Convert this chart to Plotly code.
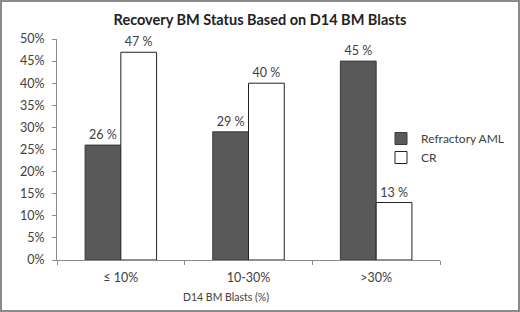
import plotly.graph_objects as go

categories = ["≤ 10%", "10-30%", ">30%"]
refractory = [26, 29, 45]
cr = [47, 40, 13]
y_ticks = [0, 5, 10, 15, 20, 25, 30, 35, 40, 45, 50]

font_family = "Lato, Open Sans, sans-serif"
text_col = "#404040"

fig = go.Figure()
fig.add_trace(go.Bar(
    x=categories, y=[v / 100 for v in refractory], name="Refractory AML",
    marker=dict(color="#595959", line=dict(color="#3a3a3a", width=1)),
    text=[f"{v} %" for v in refractory], textposition="outside",
    textfont=dict(size=12.5, color=text_col, family=font_family), cliponaxis=False,
))
fig.add_trace(go.Bar(
    x=categories, y=[v / 100 for v in cr], name="CR",
    marker=dict(color="white", line=dict(color="#222222", width=1)),
    text=[f"{v} %" for v in cr], textposition="outside",
    textfont=dict(size=12.5, color=text_col, family=font_family), cliponaxis=False,
))

L, T, PW, PH = 57, 39, 383, 221
fig.update_layout(
    width=520, height=312,
    margin=dict(l=L, r=520 - L - PW, t=T, b=312 - T - PH, autoexpand=False),
    paper_bgcolor="white", plot_bgcolor="white",
    barmode="group", bargap=0.44, bargroupgap=0,
    title=dict(text="<b>Recovery BM Status Based on D14 BM Blasts</b>",
               x=0.5, xanchor="center", y=1 - 20 / 312, yanchor="middle",
               font=dict(size=14.5, color="#222222", family=font_family)),
    font=dict(family=font_family, color=text_col, size=12),
    showlegend=True,
    legend=dict(x=(381 - L) / PW, y=(260 - 148) / PH, xanchor="left", yanchor="middle",
                font=dict(size=12, color=text_col), bgcolor="rgba(0,0,0,0)",
                tracegroupgap=0, itemwidth=30, traceorder="normal"),
)
fig.update_yaxes(range=[0, 0.5], tickvals=[v / 100 for v in y_ticks],
                 ticktext=[f"{v}%" for v in y_ticks], showgrid=False,
                 showline=True, linecolor="#8c8c8c", linewidth=1,
                 ticks="outside", ticklen=4, tickcolor="#8c8c8c", ticklabelstandoff=5,
                 tickfont=dict(size=12.5, color=text_col), zeroline=False)
fig.update_xaxes(showgrid=False, showline=True, linecolor="#8c8c8c", linewidth=1,
                 ticks="outside", ticklen=4, tickcolor="#8c8c8c", tickson="boundaries",
                 ticklabelstandoff=6, tickfont=dict(size=12.5, color=text_col))
fig.add_annotation(text="D14 BM Blasts (%)", xref="paper", yref="paper",
                   x=(226 - L) / PW, y=(260 - 297) / PH, xanchor="center", yanchor="middle",
                   showarrow=False, font=dict(size=10.5, color=text_col, family=font_family))
fig.add_shape(type="rect", xref="paper", yref="paper",
              x0=(1 - L) / PW, x1=(519 - L) / PW, y0=(260 - 311) / PH, y1=(260 - 1) / PH,
              line=dict(color="#8c8c8c", width=2), fillcolor="rgba(0,0,0,0)", layer="above")
fig.write_html("out.html", config={"displayModeBar": False},
               post_script="document.body.style.margin='0';document.body.style.overflow='hidden';")
